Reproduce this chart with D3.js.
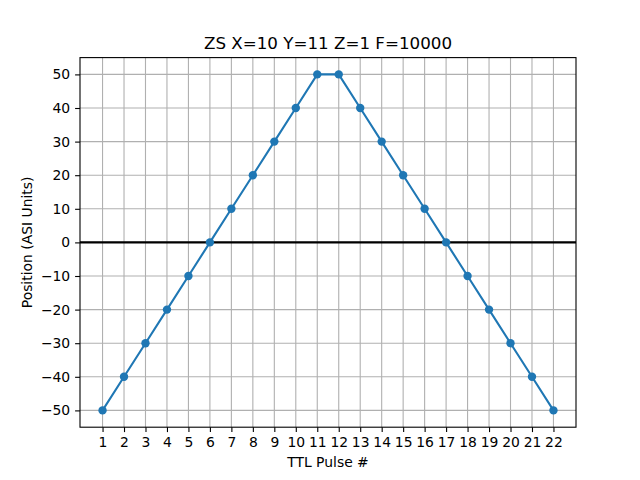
<!DOCTYPE html>
<html>
<head>
<meta charset="utf-8">
<script src="https://cdn.jsdelivr.net/npm/d3@7"></script>
<style>
  body { margin: 0; background: #fff; }
  text { font-family: "DejaVu Sans", sans-serif; fill: #000; }
</style>
</head>
<body>
<svg id="chart" width="640" height="480"></svg>
<script>
const pulses = [1, 2, 3, 4, 5, 6, 7, 8, 9, 10, 11, 12, 13, 14, 15, 16, 17, 18, 19, 20, 21, 22];
const positions = [-50, -40, -30, -20, -10, 0, 10, 20, 30, 40, 50, 50, 40, 30, 20, 10, 0, -10, -20, -30, -40, -50];
const yTicks = [-50, -40, -30, -20, -10, 0, 10, 20, 30, 40, 50];
const title = "ZS X=10 Y=11 Z=1 F=10000";

const svg = d3.select("#chart");
const plotL = 80, plotR = 576, plotT = 57.6, plotB = 427.2;

const x = d3.scaleLinear().domain([-0.05, 23.05]).range([plotL, plotR]);
const y = d3.scaleLinear().domain([-55, 55]).range([plotB, plotT]);

// grid
const grid = svg.append("g");
grid.selectAll(".gx").data(pulses).enter().append("line")
  .attr("x1", (d) => x(d)).attr("x2", (d) => x(d))
  .attr("y1", plotT).attr("y2", plotB)
  .attr("stroke", "#b0b0b0").attr("stroke-width", 1.1);
grid.selectAll(".gy").data(yTicks).enter().append("line")
  .attr("x1", plotL).attr("x2", plotR)
  .attr("y1", (d) => y(d)).attr("y2", (d) => y(d))
  .attr("stroke", "#b0b0b0").attr("stroke-width", 1.1);

// zero line
svg.append("line")
  .attr("x1", plotL).attr("x2", plotR)
  .attr("y1", y(0)).attr("y2", y(0))
  .attr("stroke", "#000").attr("stroke-width", 2.1);

// data
const pts = pulses.map((p, i) => [p, positions[i]]);
svg.append("path")
  .datum(pts)
  .attr("fill", "none")
  .attr("stroke", "#1f77b4")
  .attr("stroke-width", 2.1)
  .attr("d", d3.line().x((d) => x(d[0])).y((d) => y(d[1])));
svg.selectAll(".dot").data(pts).enter().append("circle")
  .attr("cx", (d) => x(d[0])).attr("cy", (d) => y(d[1]))
  .attr("r", 4.2)
  .attr("fill", "#1f77b4");

// axes
const fmt = (d) => String(d).replace("-", "\u2212");
const xAxis = svg.append("g").attr("transform", `translate(0,${plotB})`)
  .call(d3.axisBottom(x).tickValues(pulses).tickSize(4.9).tickPadding(4.9));
const yAxis = svg.append("g").attr("transform", `translate(${plotL},0)`)
  .call(d3.axisLeft(y).tickValues(yTicks).tickFormat(fmt).tickSize(4.9).tickPadding(4.9));
[xAxis, yAxis].forEach((a) => {
  a.select(".domain").remove();
  a.selectAll("line").attr("stroke", "#000").attr("stroke-width", 1.1);
  a.selectAll("text").attr("font-size", 13.9).attr("font-family", "DejaVu Sans");
});

// frame
svg.append("rect")
  .attr("x", plotL).attr("y", plotT)
  .attr("width", plotR - plotL).attr("height", plotB - plotT)
  .attr("fill", "none").attr("stroke", "#000").attr("stroke-width", 1.1);

// labels
svg.append("text").attr("x", (plotL + plotR) / 2).attr("y", 49.3)
  .attr("text-anchor", "middle").attr("font-size", 16.7).text(title);
svg.append("text").attr("x", (plotL + plotR) / 2).attr("y", 467)
  .attr("text-anchor", "middle").attr("font-size", 13.9).text("TTL Pulse #");
svg.append("text")
  .attr("transform", `translate(32,${(plotT + plotB) / 2}) rotate(-90)`)
  .attr("text-anchor", "middle").attr("font-size", 13.9).text("Position (ASI Units)");
</script>
</body>
</html>
